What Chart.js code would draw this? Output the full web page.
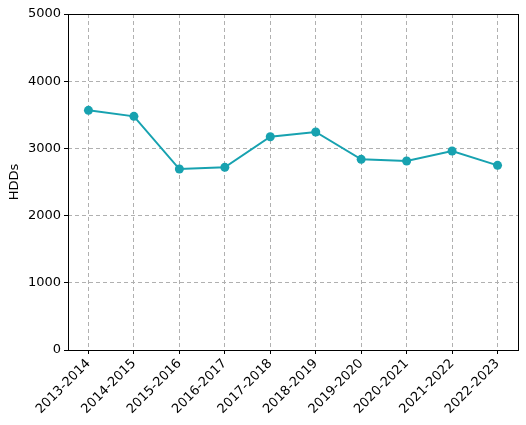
<!DOCTYPE html>
<html>
<head>
<meta charset="utf-8">
<script src="https://cdn.jsdelivr.net/npm/chart.js@4.4.1/dist/chart.umd.min.js"></script>
<style>
  html, body { margin: 0; padding: 0; background: #fff; }
  #wrap { width: 526px; height: 425px; }
</style>
</head>
<body>
<div id="wrap"><canvas id="chart" width="526" height="425"></canvas></div>
<script>
const seasons = ['2013-2014', '2014-2015', '2015-2016', '2016-2017', '2017-2018',
                 '2018-2019', '2019-2020', '2020-2021', '2021-2022', '2022-2023'];
const hdds = [3566, 3477, 2693, 2718, 3174, 3244, 2837, 2812, 2961, 2748];
const yTicks = [0, 1000, 2000, 3000, 4000, 5000];

const lineColor = '#17a2b0';
Chart.defaults.font.family = 'DejaVu Sans';
Chart.defaults.font.size = 13;
Chart.defaults.color = '#000000';

// matplotlib-like frame around the plot area
const framePlugin = {
  id: 'frame',
  afterDraw(chart) {
    const { ctx, chartArea: a } = chart;
    ctx.save();
    ctx.strokeStyle = '#000';
    ctx.lineWidth = 1;
    ctx.strokeRect(Math.round(a.left) + 0.5, Math.round(a.top) + 0.5,
                   Math.round(a.right - a.left), Math.round(a.bottom - a.top));
    ctx.restore();
  }
};

new Chart(document.getElementById('chart').getContext('2d'), {
  type: 'line',
  data: {
    datasets: [{
      data: hdds.map((v, i) => ({ x: i, y: v })),
      borderColor: lineColor,
      backgroundColor: lineColor,
      borderWidth: 2,
      pointRadius: 4.5,
      pointHoverRadius: 4.5,
      pointBorderWidth: 0,
      tension: 0,
      fill: false,
    }]
  },
  options: {
    responsive: false,
    animation: false,
    layout: { padding: { top: 14, right: 8, left: 0, bottom: 0 } },
    plugins: {
      legend: { display: false },
      tooltip: { enabled: false },
    },
    scales: {
      x: {
        type: 'linear',
        min: -0.45,
        max: seasons.length - 1 + 0.45,
        afterFit: (scale) => { scale.height = 75; },
        afterBuildTicks: (scale) => {
          scale.ticks = seasons.map((s, i) => ({ value: i }));
        },
        ticks: {
          stepSize: 1,
          includeBounds: false,
          autoSkip: false,
          minRotation: 45,
          maxRotation: 45,
          padding: 2,
          callback: (v) => seasons[v],
        },
        border: { display: false, dash: [4, 3] },
        grid: {
          color: '#b0b0b0',
          lineWidth: 1,
          drawTicks: true,
          tickLength: 4,
          tickColor: '#000',
          tickWidth: 1,
        },
      },
      y: {
        min: 0,
        max: 5000,
        afterFit: (scale) => { scale.width = 68; },
        afterBuildTicks: (scale) => {
          scale.ticks = yTicks.map(v => ({ value: v }));
        },
        ticks: { padding: 3, callback: (v) => String(v) },
        title: { display: true, text: 'HDDs', padding: { top: 7, bottom: 4 } },
        border: { display: false, dash: [4, 3] },
        grid: {
          color: '#b0b0b0',
          lineWidth: 1,
          drawTicks: true,
          tickLength: 4,
          tickColor: '#000',
          tickWidth: 1,
        },
      },
    },
  },
  plugins: [framePlugin],
});
</script>
</body>
</html>
